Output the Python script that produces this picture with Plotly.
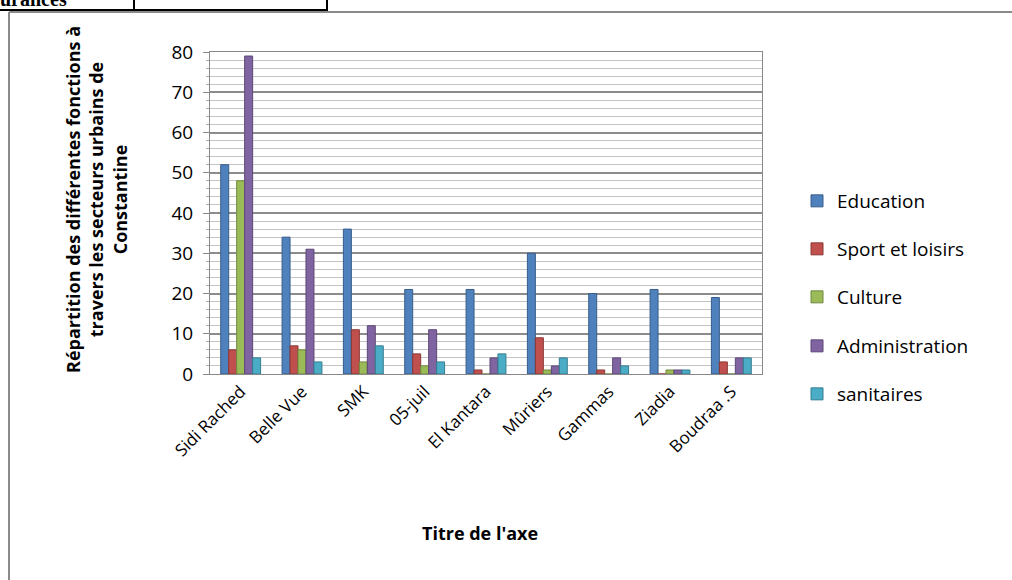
import plotly.graph_objects as go

categories = ["Sidi Rached", "Belle Vue", "SMK", "05-juil", "El Kantara", "Mûriers", "Gammas", "Ziadia", "Boudraa .S"]
education = [52, 34, 36, 21, 21, 30, 20, 21, 19]
sport = [6, 7, 11, 5, 1, 9, 1, 0, 3]
culture = [48, 6, 3, 2, 0, 1, 0, 1, 0]
administration = [79, 31, 12, 11, 4, 2, 4, 1, 4]
sanitaires = [4, 3, 7, 3, 5, 4, 2, 1, 4]

series = [
    ("Education", education, "#4F81BD", "#385d8a"),
    ("Sport et loisirs", sport, "#C0504D", "#8c3836"),
    ("Culture", culture, "#9BBB59", "#71893f"),
    ("Administration", administration, "#8064A2", "#5c4776"),
    ("sanitaires", sanitaires, "#4BACC6", "#357d91"),
]

W, H = 1012, 580
L, R, T, B = 210, 762, 52, 374

def px(x):
    return (x - L) / (R - L)

def py(y):
    return (B - y) / (B - T)

font = "Open Sans, Liberation Sans, sans-serif"

fig = go.Figure()
legend_layout = {}
legend_y = [201, 249, 297, 346, 394]
for i, (name, vals, col, edge) in enumerate(series):
    lg = "legend" if i == 0 else f"legend{i+1}"
    fig.add_trace(go.Bar(x=categories, y=vals, name=name, legend=lg, showlegend=True,
                         marker=dict(color=col, line=dict(color=edge, width=1))))
    legend_layout[lg] = dict(x=px(797), y=py(legend_y[i]), xanchor="left", yanchor="middle",
                             font=dict(size=19, family=font, color="#000"), bgcolor="rgba(0,0,0,0)",
                             itemwidth=30, visible=True)

fig.update_layout(
    width=W, height=H,
    margin=dict(l=L, r=W - R, t=T, b=H - B),
    paper_bgcolor="white", plot_bgcolor="white",
    showlegend=True,
    barmode="group", bargap=0.35, bargroupgap=0.0,
    font=dict(family=font, size=17, color="#000"),
    xaxis=dict(tickangle=-45, tickfont=dict(size=17), showline=True, linecolor="#888", mirror=True,
               ticks="", showgrid=False),
    yaxis=dict(range=[0, 80], dtick=10, tickfont=dict(size=19), showline=True, linecolor="#888",
               mirror=True, ticks="outside", ticklen=6, tickcolor="#888", ticklabelstandoff=6,
               showgrid=True, gridcolor="#8c8c8c", gridwidth=1.5,
               minor=dict(dtick=2, showgrid=True, gridcolor="#c4c4c4", gridwidth=1, ticks="outside", ticklen=3, tickcolor="#aaa")),
    **legend_layout,
)

annotations = [
    dict(text="<b>Répartition des différentes fonctions à<br>travers les secteurs urbains de<br>Constantine</b>",
         x=px(96), y=py(200), xref="paper", yref="paper", textangle=-90, showarrow=False,
         xanchor="center", yanchor="middle", font=dict(size=18), align="center"),
    dict(text="<b>Titre de l'axe</b>", x=px(480), y=py(533), xref="paper", yref="paper",
         xanchor="center", yanchor="middle", showarrow=False, font=dict(size=18)),
    dict(text="<b>urances</b>", x=px(-2), y=py(-1), xref="paper", yref="paper", xanchor="left",
         yanchor="middle", showarrow=False, font=dict(family="Liberation Serif, serif", size=20)),
]
fig.update_layout(annotations=annotations)

shapes = [
    dict(type="line", xref="paper", yref="paper", x0=px(0), x1=px(328), y0=py(10), y1=py(10), line=dict(color="black", width=2)),
    dict(type="line", xref="paper", yref="paper", x0=px(134), x1=px(134), y0=py(0), y1=py(10), line=dict(color="black", width=2)),
    dict(type="line", xref="paper", yref="paper", x0=px(327), x1=px(327), y0=py(0), y1=py(10), line=dict(color="black", width=2)),
    dict(type="line", xref="paper", yref="paper", x0=px(9), x1=px(1012), y0=py(12), y1=py(12), line=dict(color="#8a8a8a", width=2)),
    dict(type="line", xref="paper", yref="paper", x0=px(9), x1=px(9), y0=py(12), y1=py(580), line=dict(color="#8a8a8a", width=2)),
]
fig.update_layout(shapes=shapes)

fig.write_html("out.html", config={"displayModeBar": False},
               post_script="document.body.style.margin='0';")
